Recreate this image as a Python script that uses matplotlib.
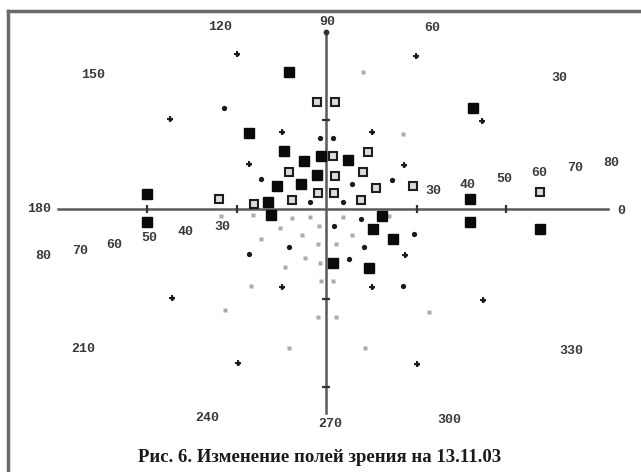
import matplotlib
matplotlib.use("Agg")
import matplotlib.pyplot as plt
import numpy as np

# field points, chart plane units (centre of the axes = 0, 0)
big_x = [-37, -77, -42, -22, -5, -9, -49, -25, -179, -58, -179, -55, 147, 22, 144, 56, 144, 214, 47, 67, 7, 43]
big_y = [137, 76, 58, 48, 53, 34, 23, 25, 15, 7, -13, -6, 101, 49, 10, -7, -13, -20, -20, -30, -54, -59]

open_x = [-9, 9, 7, 42, -37, 9, 37, -8, 8, 50, 87, -107, -72, -34, 35, 214]
open_y = [107, 107, 53, 57, 37, 33, 37, 16, 16, 21, 23, 10, 5, 9, 9, 17]

dot_x = [-102, -6, 7, -65, -16, 17, 26, 66, 35, 8, 88, -37, -77, 38, 23, 77]
dot_y = [101, 71, 71, 30, 7, 7, 25, 29, -10, -17, -25, -38, -45, -38, -50, -77]

plus_x = [-89, 90, -156, 156, -44, 46, -77, 78, 79, -44, 46, -154, 157, -88, 91]
plus_y = [155, 153, 90, 88, 77, 77, 45, 44, -46, -78, -78, -89, -91, -154, -155]

gray_x = [37, 77, -73, -34, -16, 17, 63, -105, -46, -7, -24, 26, -65, -8, 10, -21, -6, -41,
          -75, -5, 7, -101, -8, 10, 103, -37, 39]
gray_y = [137, 75, -6, -9, -8, -8, -7, -7, -19, -17, -26, -26, -30, -35, -35, -49, -54, -58,
          -77, -72, -72, -101, -108, -108, -103, -139, -139]

meridians = ["0", "30", "60", "90", "120", "150", "180", "210", "240", "270", "300", "330"]
merid_x = [295, 233, 106, 1, -106, -233, -287, -243, -119, 4, 123, 245]
merid_y = [-2, 131, 181, 187, 182, 134, 0, -140, -209, -215, -211, -142]

radii = ["30", "40", "50", "60", "70", "80"]
right_x = [107, 142, 178, 213, 249, 285]
right_y = [18, 24, 30, 36, 41, 46]
left_x = [-104, -141, -177, -212, -246, -283]
left_y = [-18, -23, -29, -36, -42, -47]

h_ticks = [-179, -89, 91, 180]
v_ticks = [89, -90, -178]

caption = "Рис. 6. Изменение полей зрения на 13.11.03"

fig = plt.figure(figsize=(6.41, 4.72), dpi=100)
ax = fig.add_axes([0, 0, 1, 1])
ax.set_xlim(-326, 315)
ax.set_ylim(-263, 209)
ax.axis("off")

# frame of the figure
ax.plot([-318, -318], [-263, 198], color="#6a6a6a", lw=2.5)
ax.plot([-318, 315], [198, 198], color="#6a6a6a", lw=2.5)

# axes cross
ax.plot([-268, 282], [0, 0], color="#5a5a5a", lw=1.8, zorder=1)
ax.plot([0, 0], [-204, 177], color="#5a5a5a", lw=1.8, zorder=1)
ax.plot(0, 177, "o", color="#333333", ms=3.2)
ax.plot(h_ticks, [0] * len(h_ticks), "|", color="#333333", ms=6, mew=1.6)
ax.plot([0] * len(v_ticks), v_ticks, "_", color="#333333", ms=6, mew=1.6)

ax.plot(gray_x, gray_y, "s", color="#ababab", ms=2.9, mec="none", zorder=3)
ax.plot(dot_x, dot_y, "o", color="#1a1a1a", ms=3.8, mec="none", zorder=3)
ax.plot(plus_x, plus_y, "+", color="#1a1a1a", ms=5, mew=1.4, zorder=3)
ax.plot(plus_x, plus_y, "o", color="#1a1a1a", ms=3, mec="none", zorder=3)
ax.plot(open_x, open_y, "s", mfc="#dcdcdc", mec="#1e1e1e", mew=1.5, ms=5.2, zorder=3)
ax.plot(big_x, big_y, "s", color="#0a0a0a", ms=6.5, zorder=3)

lab = dict(family="Liberation Mono", fontsize=9.5, fontweight="bold", color="#3a3a3a",
           ha="center", va="center")
for t, x, y in zip(meridians, merid_x, merid_y):
    ax.text(x, y, t, **lab)
for t, x, y in zip(radii, right_x, right_y):
    ax.text(x, y, t, **lab)
for t, x, y in zip(radii, left_x, left_y):
    ax.text(x, y, t, **lab)

ax.text(-6, -249, caption, family="Liberation Serif", fontsize=13.5, fontweight="bold",
        color="#1a1a1a", ha="center", va="center")

fig.savefig("out.png", dpi=100)
